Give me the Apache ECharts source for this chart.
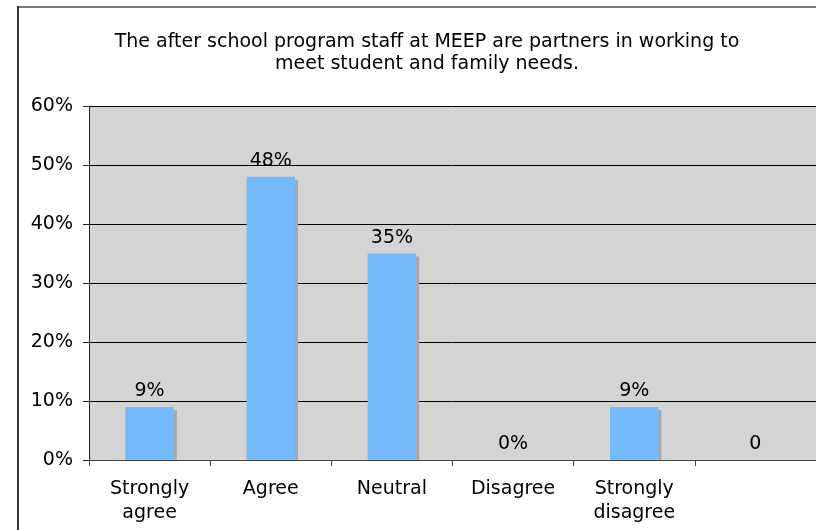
<!DOCTYPE html>
<html>
<head>
<meta charset="utf-8">
<script src="https://cdn.jsdelivr.net/npm/echarts@6/dist/echarts.min.js"></script>
<style>
  html, body { margin: 0; padding: 0; background: #fff; }
  #chart { width: 816px; height: 530px; }
</style>
</head>
<body>
<div id="chart"></div>
<script>
// Survey responses: "The after school program staff at MEEP are partners..."
const titleText = 'The after school program staff at MEEP are partners in working to\nmeet student and family needs.';
const categories = ['Strongly\nagree', 'Agree', 'Neutral', 'Disagree', 'Strongly\ndisagree', ''];
const shares = [9, 48, 35, 0, 9, 0];
const valueLabels = ['9%', '48%', '35%', '0%', '9%', '0'];
const yTicks = [0, 10, 20, 30, 40, 50, 60];

const font = 'DejaVu Sans, Verdana, sans-serif';
const BAR_RATIO = 0.4;
const chart = echarts.init(document.getElementById('chart'), null, { renderer: 'canvas' });

// Drop shadow behind each bar, offset right and down, stopping at the baseline.
function renderShadow(params, api) {
  const v = api.value(1);
  if (!v) return null;
  const top = api.coord([api.value(0), v]);
  const base = api.coord([api.value(0), 0]);
  const w = api.size([1, 0])[0] * BAR_RATIO;
  const off = 3;
  return {
    type: 'rect',
    shape: { x: top[0] - w / 2 + off, y: top[1] + off, width: w, height: base[1] - top[1] - off },
    style: { fill: '#a8a8a8' }
  };
}

chart.setOption({
  animation: false,
  backgroundColor: '#ffffff',
  title: {
    text: titleText,
    left: 422,
    top: 26,
    textAlign: 'center',
    textStyle: { fontFamily: font, fontSize: 19, fontWeight: 'normal', color: '#000', lineHeight: 22 }
  },
  graphic: [
    { type: 'line', shape: { x1: 18, y1: 7, x2: 816, y2: 7 }, style: { stroke: '#7a7a7a', lineWidth: 2 } },
    { type: 'line', shape: { x1: 18, y1: 6, x2: 18, y2: 530 }, style: { stroke: '#333333', lineWidth: 2 } }
  ],
  grid: {
    left: 89, right: -2, top: 106, bottom: 70,
    show: true, backgroundColor: '#d4d4d4', borderWidth: 0
  },
  xAxis: {
    type: 'category',
    data: categories,
    axisLine: { show: true, lineStyle: { color: '#444', width: 1 } },
    axisTick: { show: true, length: 6, alignWithLabel: false, lineStyle: { color: '#444' } },
    axisLabel: { fontFamily: font, fontSize: 19, color: '#000', margin: 17, lineHeight: 24, interval: 0 },
    splitLine: { show: false }
  },
  yAxis: {
    type: 'value',
    min: yTicks[0],
    max: yTicks[yTicks.length - 1],
    interval: 10,
    axisLine: { show: true, lineStyle: { color: '#222', width: 1 } },
    axisTick: { show: true, length: 6, lineStyle: { color: '#222' } },
    axisLabel: { fontFamily: font, fontSize: 19, color: '#000', margin: 16, formatter: v => v + '%' },
    splitLine: { show: true, lineStyle: { color: '#000', width: 1 } }
  },
  series: [
    {
      type: 'custom',
      z: 1,
      renderItem: renderShadow,
      data: shares.map((v, i) => [i, v]),
      silent: true
    },
    {
      type: 'bar',
      z: 2,
      data: shares,
      barWidth: (BAR_RATIO * 100) + '%',
      barGap: '-100%',
      itemStyle: { color: '#75b9fd' },
      label: {
        show: true,
        position: 'top',
        distance: 6,
        fontFamily: font,
        fontSize: 19,
        color: '#000',
        formatter: p => valueLabels[p.dataIndex]
      }
    }
  ]
});
</script>
</body>
</html>
